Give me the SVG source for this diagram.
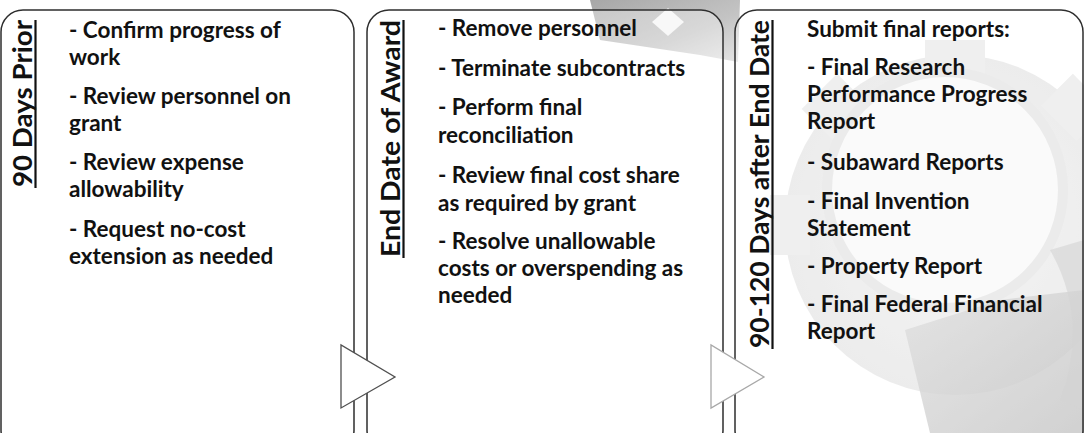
<svg xmlns="http://www.w3.org/2000/svg" width="1084" height="433" viewBox="0 0 1084 433">
  <defs>
    <linearGradient id="gTop" x1="0" y1="0" x2="1" y2="1">
      <stop offset="0" stop-color="#8a8a8a"/>
      <stop offset="0.6" stop-color="#b0b0b0"/>
      <stop offset="1" stop-color="#dcdcdc"/>
    </linearGradient>
    <linearGradient id="gHandle" x1="0" y1="0" x2="1" y2="1">
      <stop offset="0" stop-color="#d0d0d0"/>
      <stop offset="1" stop-color="#a8a8a8"/>
    </linearGradient>
    <radialGradient id="gGear" cx="0.5" cy="0.5" r="0.5">
      <stop offset="0" stop-color="#f0f0f0"/>
      <stop offset="1" stop-color="#e2e2e2"/>
    </radialGradient>
  </defs>
  <style>
    .panel { fill: #ffffff; fill-opacity: 0.35; stroke: #2e2e2e; stroke-width: 1.5; }
    .txt { font-family: Lato, "Liberation Sans", sans-serif; font-weight: 700; font-size: 22.5px; fill: #111111; }
    .ttl { font-family: Lato, "Liberation Sans", sans-serif; font-weight: 700; font-size: 27px; fill: #111111; }
    .ul { stroke: #111111; stroke-width: 2.2; }
    .arrow1 { fill: #ffffff; stroke: #505050; stroke-width: 1.3; }
    .arrow2 { fill: #ffffff; stroke: #a8a8a8; stroke-width: 1.3; }
  </style>

  <!-- background imagery -->
  <g id="background">
    <rect x="0" y="0" width="1084" height="433" fill="#ffffff"/>
    <polygon points="590,0 740,0 738,62 700,55 640,46 600,40" fill="url(#gTop)" opacity="0.75"/>
    <polygon points="668,8 684,22 668,36 652,22" fill="#f4f4f4"/>
    <g fill="url(#gGear)">
      <circle cx="955" cy="225" r="170"/>
      <rect x="925" y="40" width="60" height="40" fill="#e6e6e6"/>
      <rect x="770" y="195" width="40" height="60" fill="#e6e6e6"/>
      <rect x="1100" y="195" width="40" height="60" fill="#e6e6e6"/>
      <rect x="810" y="85" width="50" height="45" fill="#e6e6e6" transform="rotate(-45 835 107)"/>
      <rect x="1050" y="85" width="50" height="45" fill="#e6e6e6" transform="rotate(45 1075 107)"/>
    </g>
    <circle cx="945" cy="190" r="118" fill="#f7f7f7" stroke="#e0e0e0" stroke-width="10"/>
    <polygon points="905,330 1000,300 1084,290 1084,433 930,433" fill="url(#gHandle)" opacity="0.8"/>
    <path d="M1050,250 Q1090,320 1060,400 L1084,410 L1084,240 Z" fill="#bdbdbd" opacity="0.6"/>
  </g>

  <!-- panels -->
  <g id="node-90-days-prior">
    <rect class="panel" x="1" y="10" width="353" height="442" rx="22" ry="22"/>
    <text class="ttl" transform="translate(32,187) rotate(-90)" textLength="167" lengthAdjust="spacingAndGlyphs">90 Days Prior</text>
    <line class="ul" x1="35.5" y1="20" x2="35.5" y2="188"/>
    <text class="txt" x="69" y="38">- Confirm progress of</text>
    <text class="txt" x="69" y="65">work</text>
    <text class="txt" x="69" y="104">- Review personnel on</text>
    <text class="txt" x="69" y="131">grant</text>
    <text class="txt" x="69" y="170">- Review expense</text>
    <text class="txt" x="69" y="197">allowability</text>
    <text class="txt" x="69" y="237">- Request no-cost</text>
    <text class="txt" x="69" y="264">extension as needed</text>
  </g>

  <g id="node-end-date-of-award">
    <rect class="panel" x="367" y="10" width="356" height="442" rx="22" ry="22"/>
    <text class="ttl" transform="translate(400,257) rotate(-90)" textLength="237" lengthAdjust="spacingAndGlyphs">End Date of Award</text>
    <line class="ul" x1="403.5" y1="20" x2="403.5" y2="258"/>
    <text class="txt" x="438" y="36">- Remove personnel</text>
    <text class="txt" x="438" y="76">- Terminate subcontracts</text>
    <text class="txt" x="438" y="115">- Perform final</text>
    <text class="txt" x="438" y="143">reconciliation</text>
    <text class="txt" x="438" y="183">- Review final cost share</text>
    <text class="txt" x="438" y="211">as required by grant</text>
    <text class="txt" x="438" y="249">- Resolve unallowable</text>
    <text class="txt" x="438" y="276">costs or overspending as</text>
    <text class="txt" x="438" y="303">needed</text>
  </g>

  <g id="node-90-120-days-after">
    <rect class="panel" x="735" y="10" width="348" height="442" rx="22" ry="22"/>
    <text class="ttl" transform="translate(769,348) rotate(-90)" textLength="328" lengthAdjust="spacingAndGlyphs">90-120 Days after End Date</text>
    <line class="ul" x1="772.5" y1="20" x2="772.5" y2="349"/>
    <text class="txt" x="807" y="37">Submit final reports:</text>
    <text class="txt" x="807" y="75">- Final Research</text>
    <text class="txt" x="807" y="102">Performance Progress</text>
    <text class="txt" x="807" y="129">Report</text>
    <text class="txt" x="807" y="170">- Subaward Reports</text>
    <text class="txt" x="807" y="209">- Final Invention</text>
    <text class="txt" x="807" y="236">Statement</text>
    <text class="txt" x="807" y="274">- Property Report</text>
    <text class="txt" x="807" y="312">- Final Federal Financial</text>
    <text class="txt" x="807" y="339">Report</text>
  </g>

  <!-- connectors -->
  <g id="connectors">
    <polygon class="arrow1" points="341,345 341,408 395,377"/>
    <polygon class="arrow2" points="711,345 711,408 764,377"/>
  </g>
</svg>
